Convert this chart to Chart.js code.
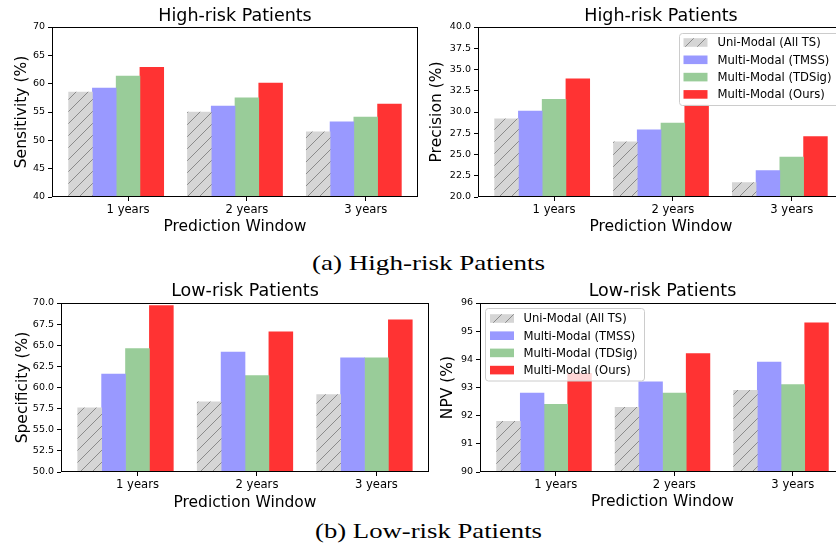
<!DOCTYPE html>
<html><head><meta charset="utf-8">
<script src="https://cdn.jsdelivr.net/npm/chart.js@4.4.0/dist/chart.umd.min.js"></script>
<style>
html,body{margin:0;padding:0;background:#fff;}
body{width:836px;height:552px;overflow:hidden;position:relative;}
canvas{position:absolute;}
.cap{position:absolute;left:0;width:857px;text-align:center;font-family:"Liberation Serif",serif;font-size:22px;line-height:22px;color:#000;white-space:nowrap;transform-origin:50% 50%;}
</style></head><body>
<canvas id="cA" width="420" height="240" style="left:0px;top:0px"></canvas>
<canvas id="cB" width="430" height="240" style="left:420px;top:0px"></canvas>
<canvas id="cC" width="432" height="240" style="left:0px;top:276px"></canvas>
<canvas id="cD" width="430" height="240" style="left:420px;top:276px"></canvas>
<div class="cap" id="capA" style="top:252px">(a) High-risk Patients</div>
<div class="cap" id="capB" style="top:520px">(b) Low-risk Patients</div>
<script>
// ---------- data ----------
const categories = ['1 years', '2 years', '3 years'];
const seriesLabels = ['Uni-Modal (All TS)', 'Multi-Modal (TMSS)', 'Multi-Modal (TDSig)', 'Multi-Modal (Ours)'];

// High-risk: Sensitivity (%)
const sensUni   = [58.5, 55.0, 51.5];
const sensTMSS  = [59.2, 56.05, 53.25];
const sensTDSig = [61.35, 57.5, 54.1];
const sensOurs  = [62.9, 60.1, 56.4];
const sensTicks = [40, 45, 50, 55, 60, 65, 70];

// High-risk: Precision (%)
const precUni   = [29.2, 26.5, 21.7];
const precTMSS  = [30.1, 27.9, 23.1];
const precTDSig = [31.5, 28.7, 24.7];
const precOurs  = [33.9, 30.8, 27.1];
const precTicks = [20.0, 22.5, 25.0, 27.5, 30.0, 32.5, 35.0, 37.5, 40.0];

// Low-risk: Specificity (%)
const specUni   = [57.6, 58.3, 59.15];
const specTMSS  = [61.6, 64.2, 63.5];
const specTDSig = [64.6, 61.4, 63.5];
const specOurs  = [69.7, 66.6, 68.0];
const specTicks = [50.0, 52.5, 55.0, 57.5, 60.0, 62.5, 65.0, 67.5, 70.0];

// Low-risk: NPV (%)
const npvUni   = [91.8, 92.3, 92.9];
const npvTMSS  = [92.8, 93.2, 93.9];
const npvTDSig = [92.4, 92.8, 93.1];
const npvOurs  = [93.5, 94.2, 95.3];
const npvTicks = [90, 91, 92, 93, 94, 95, 96];

// ---------- styling ----------
const FONT = 'DejaVu Sans';
const BLUE = '#9999ff', GREEN = '#99cc99', RED = '#ff3333';
Chart.defaults.color = '#000';
Chart.defaults.font.family = FONT;

function hatch(ctx) {
  const s = 12;
  const t = document.createElement('canvas');
  t.width = s; t.height = s;
  const g = t.getContext('2d');
  g.fillStyle = '#d5d5d5';
  g.fillRect(0, 0, s, s);
  g.strokeStyle = '#8a8a8a';
  g.lineWidth = 1;
  g.beginPath();
  g.moveTo(0, s); g.lineTo(s, 0);
  g.moveTo(s - 1, s + 1); g.lineTo(s + 1, s - 1);
  g.moveTo(-1, 1); g.lineTo(1, -1);
  g.stroke();
  return ctx.createPattern(t, 'repeat');
}

const frame = {
  id: 'frame',
  afterDraw(chart) {
    const {ctx, chartArea: a} = chart;
    ctx.save();
    ctx.strokeStyle = '#000';
    ctx.lineWidth = 1;
    ctx.strokeRect(Math.round(a.left) + 0.5, Math.round(a.top) + 0.5,
                   Math.round(a.right - a.left) - 1, Math.round(a.bottom - a.top) - 1);
    ctx.restore();
  }
};

const insideLegend = {
  id: 'insideLegend',
  afterDatasetsDraw(chart, args, o) {
    if (!o || !o.box) return;
    const ctx = chart.ctx, b = o.box;
    ctx.save();
    const r = 3;
    ctx.beginPath();
    ctx.moveTo(b.x + r, b.y);
    ctx.lineTo(b.x + b.w - r, b.y); ctx.arcTo(b.x + b.w, b.y, b.x + b.w, b.y + r, r);
    ctx.lineTo(b.x + b.w, b.y + b.h - r); ctx.arcTo(b.x + b.w, b.y + b.h, b.x + b.w - r, b.y + b.h, r);
    ctx.lineTo(b.x + r, b.y + b.h); ctx.arcTo(b.x, b.y + b.h, b.x, b.y + b.h - r, r);
    ctx.lineTo(b.x, b.y + r); ctx.arcTo(b.x, b.y, b.x + r, b.y, r);
    ctx.closePath();
    ctx.fillStyle = 'rgba(255,255,255,0.8)';
    ctx.fill();
    ctx.strokeStyle = '#cccccc';
    ctx.lineWidth = 1;
    ctx.stroke();
    ctx.font = '11.6px "' + FONT + '"';
    ctx.textBaseline = 'middle';
    ctx.textAlign = 'left';
    chart.data.datasets.forEach((ds, i) => {
      const cy = b.y + o.first + i * o.gap;
      ctx.fillStyle = ds.backgroundColor;
      ctx.fillRect(b.x + o.hx, cy - 4.3, 24, 8.6);
      ctx.fillStyle = '#000';
      ctx.fillText(ds.label, b.x + o.tx, cy + 0.8);
    });
    ctx.restore();
  }
};

function makeChart(id, cfg) {
  const canvas = document.getElementById(id);
  const ctx = canvas.getContext('2d');
  const series = [cfg.uni, cfg.tmss, cfg.tdsig, cfg.ours];
  const colors = [hatch(ctx), BLUE, GREEN, RED];
  const barW = 0.2;
  const datasets = series.map((vals, d) => ({
    label: seriesLabels[d],
    data: vals.map((v, i) => ({x: i + (d - 2) * barW, y: v})),
    backgroundColor: colors[d],
    borderWidth: 0,
    grouped: false,
    categoryPercentage: 1,
    barPercentage: 1
  }));
  return new Chart(ctx, {
    type: 'bar',
    data: {datasets},
    plugins: [insideLegend, frame],
    options: {
      responsive: false,
      animation: false,
      events: [],
      layout: {padding: {left: 0, right: cfg.padRight, top: 0, bottom: 0}},
      plugins: {
        legend: {display: false},
        tooltip: {enabled: false},
        title: {
          display: true, text: cfg.title, fullSize: false,
          font: {size: 17.5, weight: 'normal', family: FONT}, color: '#000',
          padding: {top: cfg.titlePad, bottom: 27 - 21 - cfg.titlePad}
        },
        insideLegend: cfg.legend || {}
      },
      scales: {
        x: {
          type: 'linear', min: -0.64, max: 2.44, offset: false,
          afterBuildTicks: s => { s.ticks = categories.map((c, i) => ({value: i})); },
          afterFit: s => { s.height = cfg.xH; },
          ticks: {callback: (v, i) => categories[i], font: {size: 11.6}, padding: 2, maxRotation: 0, autoSkip: false, color: '#000'},
          grid: {display: true, drawOnChartArea: false, drawTicks: true, tickLength: 4, tickColor: '#000', offset: false},
          border: {display: false},
          title: {display: true, text: 'Prediction Window', font: {size: 15.5}, color: '#000', padding: {top: 0, bottom: cfg.xTitlePad}}
        },
        y: {
          min: cfg.ticks[0], max: cfg.ticks[cfg.ticks.length - 1],
          afterBuildTicks: s => { s.ticks = cfg.ticks.map(v => ({value: v})); },
          afterFit: s => { s.width = cfg.yW; },
          ticks: {callback: v => v.toFixed(cfg.dec), font: {size: 9.5}, padding: 3, color: '#000'},
          grid: {display: true, drawOnChartArea: false, drawTicks: true, tickLength: 4, tickColor: '#000'},
          border: {display: false},
          title: {display: true, text: cfg.yTitle, font: {size: 15.5}, color: '#000', padding: {top: cfg.yTitlePad, bottom: 0}}
        }
      }
    }
  });
}

makeChart('cA', {
  uni: sensUni, tmss: sensTMSS, tdsig: sensTDSig, ours: sensOurs, ticks: sensTicks, dec: 0,
  title: 'High-risk Patients', yTitle: 'Sensitivity (%)',
  yW: 52, xH: 43, padRight: 2, titlePad: 6, xTitlePad: 3.7, yTitlePad: 12.4
});
makeChart('cB', {
  uni: precUni, tmss: precTMSS, tdsig: precTDSig, ours: precOurs, ticks: precTicks, dec: 1,
  title: 'High-risk Patients', yTitle: 'Precision (%)',
  yW: 58, xH: 43, padRight: 6, titlePad: 6, xTitlePad: 3.7, yTitlePad: 8,
  legend: {box: {x: 259.5, y: 33.5, w: 160, h: 72}, first: 9, gap: 17.3, hx: 4, tx: 38}
});
makeChart('cC', {
  uni: specUni, tmss: specTMSS, tdsig: specTDSig, ours: specOurs, ticks: specTicks, dec: 1,
  title: 'Low-risk Patients', yTitle: 'Specificity (%)',
  yW: 61, xH: 44, padRight: 3, titlePad: 5, xTitlePad: 4, yTitlePad: 13.4
});
makeChart('cD', {
  uni: npvUni, tmss: npvTMSS, tdsig: npvTDSig, ours: npvOurs, ticks: npvTicks, dec: 0,
  title: 'Low-risk Patients', yTitle: 'NPV (%)',
  yW: 60, xH: 44, padRight: 5, titlePad: 5, xTitlePad: 4.7, yTitlePad: 18.7,
  legend: {box: {x: 65.5, y: 32.5, w: 159, h: 72.5}, first: 10, gap: 17.2, hx: 4.5, tx: 38}
});

// captions: stretch horizontally to the reference width (Computer Modern is wider than Times)
(function () {
  const m = document.createElement('canvas').getContext('2d');
  m.font = '22px "Liberation Serif"';
  [['capA', 233], ['capB', 227]].forEach(([id, target]) => {
    const el = document.getElementById(id);
    const w = m.measureText(el.textContent).width;
    el.style.transform = 'scaleX(' + (target / w).toFixed(4) + ')';
  });
})();
</script>
</body></html>
